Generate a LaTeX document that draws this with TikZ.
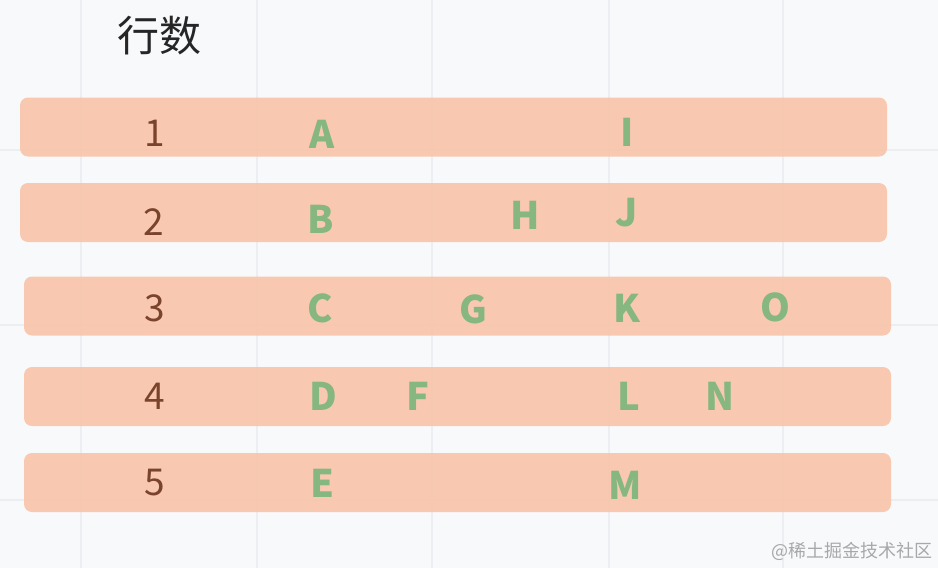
\documentclass[tikz,border=0pt]{standalone}
\usepackage{fontspec}
\setmainfont{Noto Sans CJK SC}
\definecolor{bgcol}{HTML}{F8F9FB}
\definecolor{gridcol}{HTML}{ECEEF1}
\definecolor{barcol}{HTML}{F8C4A8}
\definecolor{numcol}{HTML}{7A432C}
\definecolor{letcol}{HTML}{86B780}
\definecolor{markcol}{HTML}{A8A8A8}

\begin{document}
\begin{tikzpicture}[x=1pt,y=-1pt,
    bar/.style={rectangle, rounded corners=8pt, fill=barcol, fill opacity=0.9,
        minimum width=867pt, minimum height=59pt, inner sep=0pt},
    num/.style={text=numcol, inner sep=0pt, font=\fontsize{37}{37}\selectfont},
    letter/.style={text=letcol, inner sep=0pt, font=\bfseries\fontsize{38}{38}\selectfont}]
    \fill[bgcol] (0,0) rectangle (938,568);
    \useasboundingbox (0,0) rectangle (938,568);
    %
    \foreach \x in {81,257,432,609,783}
        \draw[gridcol, line width=1.3pt] (\x,0) -- (\x,568);
    \foreach \y in {150,325,500}
        \draw[gridcol, line width=1.3pt] (0,\y) -- (938,\y);
    %
    \draw
    (453.5,127)node(row1)[bar]{}
    (453.5,212.5)node(row2)[bar]{}
    (457.5,306)node(row3)[bar]{}
    (457.5,396.5)node(row4)[bar]{}
    (457.5,482.5)node(row5)[bar]{};
    %
    \draw
    (159.5,36)node(title)[text=black!85, inner sep=0pt, font=\fontsize{42}{42}\selectfont]{行数}
    (155,133.5)node(1)[num]{1}
    (154,222)node(2)[num]{2}
    (154.5,308)node(3)[num]{3}
    (154.5,396)node(4)[num]{4}
    (154.5,483)node(5)[num]{5};
    %
    \draw
    (322,134)node(A)[letter]{A}
    (627,132)node(I)[letter]{I}
    (321,219)node(B)[letter]{B}
    (525.5,215)node(H)[letter]{H}
    (627,212.5)node(J)[letter]{J}
    (320,308)node(C)[letter]{C}
    (473,309)node(G)[letter]{G}
    (627,308)node(K)[letter]{K}
    (775,307)node(O)[letter]{O}
    (323,396)node(D)[letter]{D}
    (417.5,396)node(F)[letter]{F}
    (628.5,396)node(L)[letter]{L}
    (720,396)node(N)[letter]{N}
    (322,483)node(E)[letter]{E}
    (625,485)node(M)[letter]{M};
    %
    \node(mark)[text=markcol, inner sep=0pt, font=\fontsize{18}{18}\selectfont] at (852,551.5){@稀土掘金技术社区};
\end{tikzpicture}
\end{document}
